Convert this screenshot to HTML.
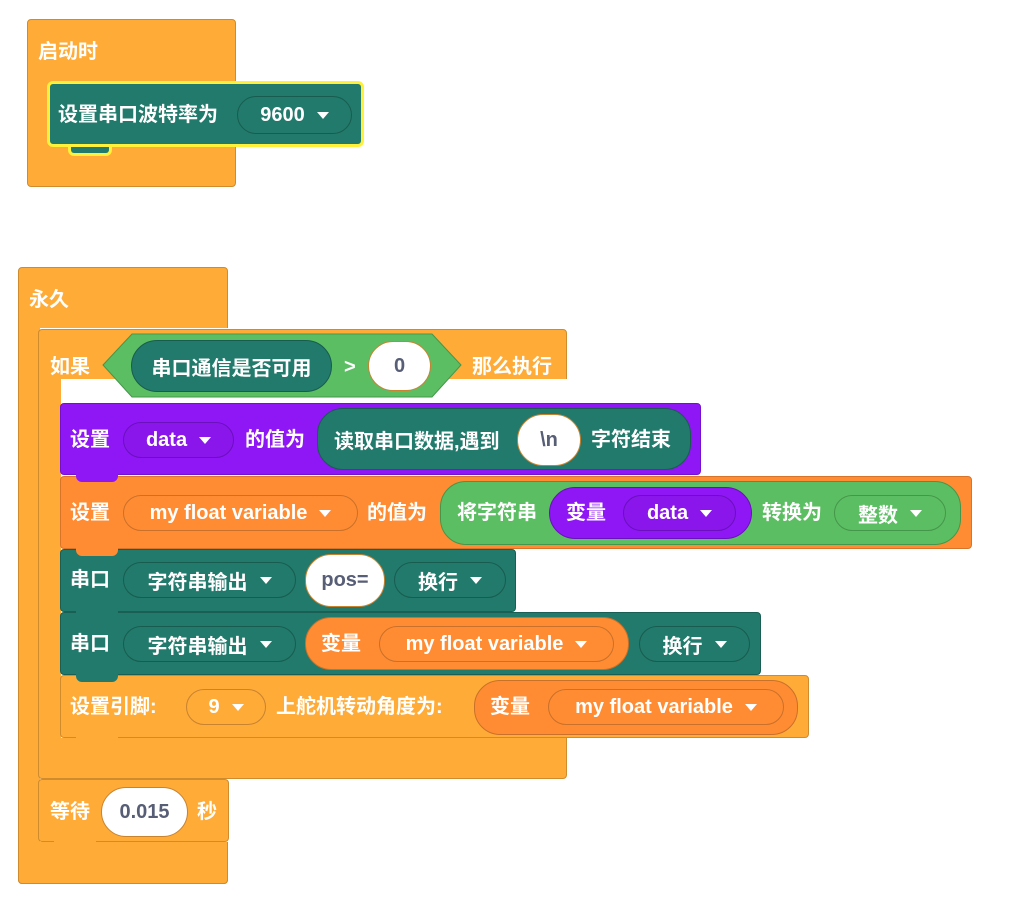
<!DOCTYPE html>
<html><head><meta charset="utf-8"><style>
body{margin:0;width:1033px;height:897px;background:#fff;position:relative;overflow:hidden;font-family:"Liberation Sans","Noto Sans CJK SC",sans-serif;font-weight:bold;}
div{position:absolute;box-sizing:border-box;}
.o{background:#FFAB38;border:1px solid #CF8B2C;border-radius:4px;}
.tl{background:#217A6B;border:1px solid #1A5F53;border-radius:4px;}
.pu{background:#9017F5;border:1px solid #7511CC;border-radius:4px;}
.or{background:#FF8C33;border:1px solid #D8742A;border-radius:4px;}
.t{color:#fff;font-size:20px;line-height:24px;white-space:nowrap;}
.p{border-radius:26px;display:flex;align-items:center;justify-content:center;color:#fff;font-size:20px;white-space:nowrap;}
.w{background:#fff;color:#575E75;border:1px solid #C88330;}
.dd::after{content:"";display:inline-block;margin-left:12px;border-left:6px solid transparent;border-right:6px solid transparent;border-top:7px solid #fff;vertical-align:middle;}
.ddt{background:#217A6B;border:1px solid #185C50;}
.ddp{background:#8A16EC;border:1px solid #6A10BC;}
.ddo{background:#FF8C33;border:1px solid #C9702A;}
.ddg{background:#5CBE62;border:1px solid #44964A;}
.tab{width:42px;height:8px;border-radius:0 0 6px 6px;}
</style></head><body>

<!-- hat -->
<div class="o" style="left:27px;top:19px;width:209px;height:168px"></div>
<div class="t" style="left:38px;top:40px">启动时</div>
<div class="tab" style="left:68px;top:144px;background:#217A6B;border:3px solid #FFF03A;border-top:none;width:44px;height:12px"></div>
<div style="left:47px;top:81px;width:317px;height:66px;border:3px solid #FFF03A;border-radius:6px;background:#217A6B"></div>
<div class="t" style="left:58px;top:103px">设置串口波特率为</div>
<div class="p dd ddt" style="left:237px;top:96px;width:115px;height:38px;border-color:#185C50">9600</div>

<!-- forever -->
<div class="o" style="left:18px;top:267px;width:210px;height:617px"></div>
<div class="t" style="left:29px;top:288px">永久</div>
<div style="left:40px;top:328px;width:189px;height:514px;background:#fff"></div>
<div style="left:19px;top:326px;width:20px;height:518px;background:#FFAB38"></div>
<div class="o" style="left:18px;top:842px;width:210px;height:42px;border-top:none;border-radius:0 0 4px 4px"></div>

<!-- if -->
<div class="o" style="left:38px;top:329px;width:529px;height:450px"></div>
<div style="left:61px;top:379px;width:507px;height:359px;background:#fff"></div>
<div class="t" style="left:50px;top:355px">如果</div>
<svg style="position:absolute;left:102px;top:333px" width="360" height="66"><polygon points="1,32 30,1 330,1 359,32 330,64 30,64" fill="#5CBE62" stroke="#44964A"/></svg>
<div class="p" style="left:131px;top:340px;width:201px;height:52px;background:#217A6B;border:1px solid #185C50">串口通信是否可用</div>
<div class="t" style="left:344px;top:355px">&gt;</div>
<div class="p w" style="left:368px;top:341px;width:63px;height:50px">0</div>
<div class="t" style="left:472px;top:355px">那么执行</div>

<!-- purple row -->
<div class="pu" style="left:60px;top:403px;width:641px;height:72px"></div>
<div class="t" style="left:70px;top:428px">设置</div>
<div class="p dd ddp" style="left:123px;top:422px;width:111px;height:36px">data</div>
<div class="t" style="left:245px;top:428px">的值为</div>
<div class="p" style="left:317px;top:408px;width:374px;height:62px;background:#217A6B;border:1px solid #185C50;justify-content:flex-start;padding-left:16px">读取串口数据,遇到</div>
<div class="p w" style="left:517px;top:414px;width:64px;height:52px">\n</div>
<div class="t" style="left:591px;top:428px">字符结束</div>

<!-- orange var row -->
<div class="or" style="left:60px;top:476px;width:912px;height:73px"></div>
<div class="t" style="left:70px;top:501px">设置</div>
<div class="p dd ddo" style="left:123px;top:495px;width:235px;height:36px">my float variable</div>
<div class="t" style="left:367px;top:501px">的值为</div>
<div class="p" style="left:440px;top:481px;width:521px;height:64px;background:#5CBE62;border:1px solid #44964A"></div>
<div class="t" style="left:457px;top:501px">将字符串</div>
<div class="p" style="left:549px;top:487px;width:203px;height:52px;background:#9017F5;border:1px solid #6A10BC"></div>
<div class="t" style="left:566px;top:501px">变量</div>
<div class="p dd ddp" style="left:623px;top:495px;width:113px;height:36px">data</div>
<div class="t" style="left:762px;top:501px">转换为</div>
<div class="p dd ddg" style="left:834px;top:495px;width:112px;height:36px">整数</div>

<!-- teal row 1 -->
<div class="tl" style="left:60px;top:549px;width:456px;height:63px"></div>
<div class="t" style="left:70px;top:568px">串口</div>
<div class="p dd ddt" style="left:123px;top:562px;width:173px;height:36px">字符串输出</div>
<div class="p w" style="left:305px;top:554px;width:80px;height:53px">pos=</div>
<div class="p dd ddt" style="left:394px;top:562px;width:112px;height:36px">换行</div>

<!-- teal row 2 -->
<div class="tl" style="left:60px;top:612px;width:701px;height:63px"></div>
<div class="t" style="left:70px;top:632px">串口</div>
<div class="p dd ddt" style="left:123px;top:626px;width:173px;height:36px">字符串输出</div>
<div class="p" style="left:305px;top:617px;width:324px;height:53px;background:#FF8C33;border:1px solid #C9702A"></div>
<div class="t" style="left:321px;top:632px">变量</div>
<div class="p dd ddo" style="left:379px;top:626px;width:235px;height:36px">my float variable</div>
<div class="p dd ddt" style="left:639px;top:626px;width:111px;height:36px">换行</div>

<!-- servo row -->
<div class="o" style="left:60px;top:675px;width:749px;height:63px"></div>
<div class="t" style="left:70px;top:695px">设置引脚:</div>
<div class="p dd ddo" style="left:186px;top:689px;width:80px;height:36px;background:#FFAB38;border-color:#C88330">9</div>
<div class="t" style="left:276px;top:695px">上舵机转动角度为:</div>
<div class="p" style="left:474px;top:680px;width:324px;height:55px;background:#FF8C33;border:1px solid #C9702A"></div>
<div class="t" style="left:490px;top:695px">变量</div>
<div class="p dd ddo" style="left:548px;top:689px;width:236px;height:36px">my float variable</div>

<!-- notch tabs -->
<div class="tab" style="left:76px;top:474px;background:#9017F5"></div>
<div class="tab" style="left:76px;top:548px;background:#FF8C33"></div>
<div class="tab" style="left:76px;top:611px;background:#217A6B"></div>
<div class="tab" style="left:76px;top:674px;background:#217A6B"></div>
<div class="tab" style="left:76px;top:737px;background:#FFAB38"></div>

<!-- wait -->
<div class="o" style="left:38px;top:779px;width:191px;height:63px"></div>
<div class="tab" style="left:54px;top:841px;background:#FFAB38"></div>
<div class="t" style="left:50px;top:800px">等待</div>
<div class="p w" style="left:101px;top:787px;width:87px;height:50px">0.015</div>
<div class="t" style="left:197px;top:800px">秒</div>
</body></html>
